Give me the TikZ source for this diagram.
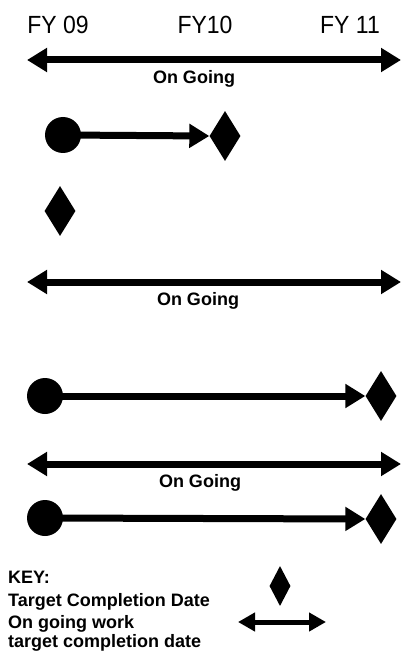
\documentclass[tikz,border=0pt]{standalone}
\usepackage{fontspec}
\setmainfont{Liberation Sans}
\usetikzlibrary{arrows.meta,shapes.geometric}
\begin{document}
\begin{tikzpicture}[x=1pt,y=-1pt,
  yearlbl/.style={font=\fontsize{23}{27}\selectfont, inner sep=0pt, yscale=1.08},
  ongoinglbl/.style={font=\fontsize{18}{21}\selectfont\bfseries, inner sep=0pt},
  keylbl/.style={font=\fontsize{18}{21}\selectfont\bfseries, inner sep=0pt, anchor=base west},
  dbl/.style={line width=7pt, {Triangle[length=20pt,width=23pt]}-{Triangle[length=20pt,width=23pt]}},
  keydbl/.style={line width=5pt, {Triangle[length=17pt,width=18pt]}-{Triangle[length=17pt,width=18pt]}},
  conn/.style={line width=7pt, -{Triangle[length=20pt,width=23pt]}, shorten <=-2pt},
  startdot/.style={circle, fill=black, draw=none, minimum size=36pt, inner sep=0pt},
  milestone/.style={diamond, fill=black, draw=none, minimum width=31pt, minimum height=50pt, inner sep=0pt},
  keymilestone/.style={diamond, fill=black, draw=none, minimum width=21pt, minimum height=40pt, inner sep=0pt}
]
\useasboundingbox[fill=white] (0,0) rectangle (401,652);

% year headers
\node[yearlbl] (fy09) at (58,25) {FY 09};
\node[yearlbl] (fy10) at (205,25) {FY10};
\node[yearlbl] (fy11) at (350,25) {FY 11};

% row 1: ongoing
\coordinate (a1l) at (27,60);
\coordinate (a1r) at (401,60);
\draw[dbl] (a1l) -- (a1r);
\node[ongoinglbl] (og1) at (194,79) {On Going};

% row 2: start -> milestone FY10
\node[startdot] (s2) at (63,135) {};
\node[milestone] (m2) at (225,136) {};
\draw[conn] (s2.center) -- (m2.west);

% row 3: milestone FY09
\node[milestone] (m3) at (60,211) {};

% row 4: ongoing
\coordinate (a4l) at (27,282);
\coordinate (a4r) at (401,282);
\draw[dbl] (a4l) -- (a4r);
\node[ongoinglbl] (og4) at (198,301) {On Going};

% row 5: start -> milestone FY11
\node[startdot] (s5) at (45,396) {};
\node[milestone] (m5) at (381,396) {};
\draw[conn] (s5.center) -- (m5.west);

% row 6: ongoing
\coordinate (a6l) at (27,464);
\coordinate (a6r) at (401,464);
\draw[dbl] (a6l) -- (a6r);
\node[ongoinglbl] (og6) at (200,483) {On Going};

% row 7: start -> milestone FY11
\node[startdot] (s7) at (45,518) {};
\node[milestone] (m7) at (381,519) {};
\draw[conn] (s7.center) -- (m7.west);

% key
\node[keylbl] (k0) at (8,583) {KEY:};
\node[keylbl] (k1) at (8,606) {Target Completion Date};
\node[keylbl] (k2) at (8,628) {On going work};
\node[keylbl] (k3) at (8,647) {target completion date};
\node[keymilestone] (km) at (280,586) {};
\coordinate (kal) at (238,622);
\coordinate (kar) at (326,622);
\draw[keydbl] (kal) -- (kar);
\end{tikzpicture}
\end{document}
